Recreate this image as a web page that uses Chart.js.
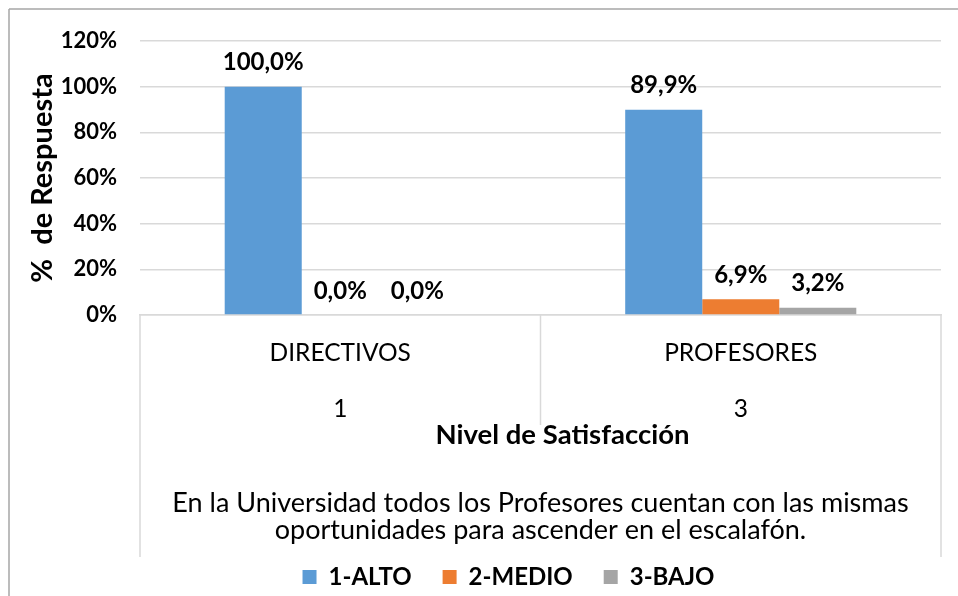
<!DOCTYPE html>
<html>
<head>
<meta charset="utf-8">
<script src="https://cdn.jsdelivr.net/npm/chart.js@4/dist/chart.umd.min.js"></script>
<style>
html, body { margin: 0; padding: 0; background: #fff; }
</style>
</head>
<body>
<canvas id="chart" width="958" height="596"></canvas>
<script>
// datos
const categories = [["DIRECTIVOS", "", "1"], ["PROFESORES", "", "3"]];
const alto = [100, 89.9];
const medio = [0, 6.9];
const bajo = [0, 3.2];
const seriesNames = ["1-ALTO", "2-MEDIO", "3-BAJO"];
const yMax = 120;
const yStep = 20;
const ejeX = "Nivel de Satisfacción";
const pregunta = [
  "En la Universidad todos los Profesores cuentan con las mismas",
  "oportunidades para ascender en el escalafón."
];

const FONT = "Lato";

// etiquetas encima de cada barra (formato 100,0%)
const barLabels = {
  id: "barLabels",
  afterDatasetsDraw(chart) {
    const ctx = chart.ctx;
    ctx.save();
    ctx.font = "bold 24px " + FONT;
    ctx.fillStyle = "#000";
    ctx.textAlign = "center";
    ctx.textBaseline = "middle";
    chart.data.datasets.forEach((ds, i) => {
      chart.getDatasetMeta(i).data.forEach((bar, j) => {
        let txt = ds.data[j].toFixed(1).replace(".", ",") + "%";
        ctx.fillText(txt, bar.x, bar.y - 24);
      });
    });
    ctx.restore();
  }
};

// tabla del eje de categorias, titulo del eje, pregunta y marco
const tableLines = {
  id: "tableLines",
  afterLayout(chart) {
    // la leyenda de excel queda centrada bajo el area de trazado
    chart.legend.left += 76;
  },
  afterDraw(chart) {
    const ctx = chart.ctx;
    const a = chart.chartArea;
    const xs = chart.scales.x;
    function line(x1, y1, x2, y2) {
      ctx.beginPath();
      ctx.moveTo(x1, y1);
      ctx.lineTo(x2, y2);
      ctx.stroke();
    }
    ctx.save();
    ctx.strokeStyle = "#d9d9d9";
    ctx.lineWidth = 1.5;
    line(a.left, a.bottom, a.left, 557);
    line(a.right, a.bottom, a.right, 557);
    for (let i = 1; i < categories.length; i++) {
      let px = (xs.getPixelForValue(i - 1) + xs.getPixelForValue(i)) / 2;
      line(px, a.bottom, px, 425);
    }
    ctx.strokeStyle = "#a6a6a6";
    line(9, 9, 958, 9);
    line(9, 9, 9, 596);

    const cx = (a.left + a.right) / 2;
    ctx.fillStyle = "#000";
    ctx.textAlign = "center";
    ctx.textBaseline = "middle";
    ctx.font = "bold 27.5px " + FONT;
    ctx.fillText(ejeX, cx + 22, 435);
    ctx.font = "27px " + FONT;
    pregunta.forEach((t, i) => ctx.fillText(t, cx, 503 + i * 27));
    ctx.restore();
  }
};

const chart = new Chart(document.getElementById("chart"), {
  type: "bar",
  data: {
    labels: categories,
    datasets: [
      { label: seriesNames[0], data: alto, backgroundColor: "#5B9BD5" },
      { label: seriesNames[1], data: medio, backgroundColor: "#ED7D31" },
      { label: seriesNames[2], data: bajo, backgroundColor: "#A5A5A5" }
    ]
  },
  options: {
    responsive: false,
    animation: false,
    layout: { padding: { top: 41, right: 17, left: 0, bottom: -3 } },
    datasets: { bar: { categoryPercentage: 0.577, barPercentage: 1 } },
    scales: {
      x: {
        grid: { display: false },
        border: { display: true, color: "#d9d9d9", width: 1.5 },
        ticks: {
          color: "#000",
          padding: 16,
          font: { family: FONT, size: 24.5, lineHeight: 1.14 }
        },
        afterFit(scale) { scale.height = 219; }
      },
      y: {
        min: 0,
        max: yMax,
        grid: { color: "#d9d9d9", lineWidth: 1.5, drawTicks: false },
        border: { display: false },
        ticks: {
          stepSize: yStep,
          padding: 23,
          color: "#000",
          font: { family: FONT, size: 22, weight: "bold" },
          callback: v => v + "%"
        },
        title: {
          display: true,
          text: "%  de Respuesta",
          color: "#000",
          padding: { top: 25, bottom: 0 },
          font: { family: FONT, size: 29, weight: "bold" }
        },
        afterFit(scale) { scale.width = 140; }
      }
    },
    plugins: {
      legend: {
        position: "bottom",
        labels: {
          color: "#000",
          boxWidth: 14,
          boxHeight: 14,
          padding: 31,
          font: { family: FONT, size: 24, weight: "bold", lineHeight: 0.75 }
        }
      },
      tooltip: { enabled: false }
    }
  },
  plugins: [barLabels, tableLines]
});
</script>
</body>
</html>
